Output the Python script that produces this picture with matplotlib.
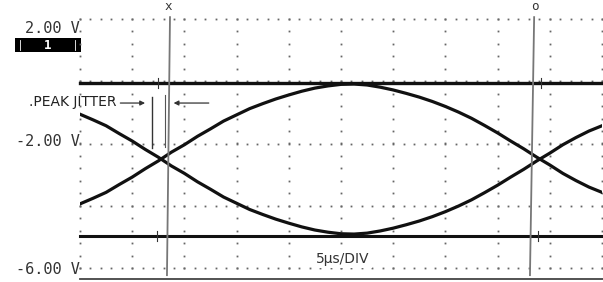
import matplotlib
matplotlib.use("Agg")
import matplotlib.pyplot as plt
from matplotlib.patches import Rectangle
import numpy as np

# Time axis (µs) and the two traces (V)
time_us = [0, 1.25, 2.5, 3.75, 5, 6.25, 7.5, 8.75, 10, 11.25, 12.5, 13.75,
           15, 16.25, 17.5, 18.75, 20, 21.25, 22.5, 23.75, 25, 26.25, 27.5, 28.75,
           30, 31.25, 32.5, 33.75, 35, 36.25, 37.5, 38.75, 40, 41.25, 42.5, 43.75,
           45, 46.25, 47.5, 48.75, 50]
trace_down = [-1.06, -1.24, -1.43, -1.68, -1.92, -2.19, -2.44, -2.72, -2.96, -3.23, -3.47,
              -3.72, -3.92, -4.12, -4.28, -4.43, -4.56, -4.68, -4.78, -4.85, -4.90, -4.91,
              -4.88, -4.81, -4.72, -4.61, -4.49, -4.35, -4.19, -4.01, -3.81, -3.58, -3.34,
              -3.08, -2.83, -2.56, -2.31, -2.04, -1.81, -1.60, -1.43]
trace_up = [-3.94, -3.76, -3.57, -3.32, -3.08, -2.81, -2.56, -2.28, -2.04, -1.77, -1.53,
            -1.28, -1.08, -0.88, -0.72, -0.57, -0.44, -0.32, -0.22, -0.15, -0.10, -0.09,
            -0.12, -0.19, -0.28, -0.39, -0.51, -0.65, -0.81, -0.99, -1.19, -1.42, -1.66,
            -1.92, -2.17, -2.44, -2.69, -2.96, -3.19, -3.40, -3.57]

# Envelope levels (V)
top_level = -0.05
bottom_level = -4.97

# Cursors (µs at top, µs at bottom)
cursor_x = [8.62, 8.33]
cursor_o = [43.5, 43.1]

volt_labels = ["2.00 V", "-2.00 V", "-6.00 V"]
volt_label_pos = [1.71, -1.95, -6.06]

fig = plt.figure(figsize=(6.03, 2.82), dpi=100)
ax = fig.add_axes([80 / 603, 14 / 282, 522 / 603, 249 / 282])
ax.set_xlim(0, 50)
ax.set_ylim(-6, 2)
ax.axis("off")

# Dotted graticule
dot = dict(ls="none", marker="s", ms=1.3, color="#666666", mec="none")
for v in [2, 0, -2, -4, -6]:
    ax.plot(np.arange(0, 50.1, 1.0), [v] * 51, clip_on=False, **dot)
for t in range(0, 51, 5):
    ax.plot([t] * 21, np.arange(-6, 2.01, 0.4), clip_on=False, **dot)

# Bottom frame line
ax.plot([0, 50.2], [-6.35, -6.35], color="#444444", lw=1.3, clip_on=False)

# Envelope lines
ax.plot([0, 50.2], [top_level, top_level], color="#111111", lw=2.4, clip_on=False)
ax.plot([0, 50.2], [bottom_level, bottom_level], color="#111111", lw=2.2, clip_on=False)
for t, v in [(7.5, top_level), (44.2, top_level), (7.4, bottom_level), (43.9, bottom_level)]:
    ax.plot([t, t], [v - 0.17, v + 0.17], color="#333333", lw=0.8, clip_on=False)

# Eye traces
ax.plot(time_us, trace_down, color="#111111", lw=2.3, solid_joinstyle="round")
ax.plot(time_us, trace_up, color="#111111", lw=2.3, solid_joinstyle="round")

# Cursors
ax.plot(cursor_x, [2.06, -6.23], color="#777777", lw=1.3, clip_on=False)
ax.plot(cursor_o, [2.06, -6.23], color="#777777", lw=1.3, clip_on=False)
ax.text(cursor_x[0] - 0.2, 2.2, "x", ha="center", va="bottom", fontsize=9,
        family="DejaVu Sans Mono", color="#333333")
ax.text(cursor_o[0] + 0.1, 2.2, "o", ha="center", va="bottom", fontsize=9,
        family="DejaVu Sans Mono", color="#333333")

# Peak jitter annotation
ax.annotate("", xy=(6.5, -0.7), xytext=(3.6, -0.7),
            arrowprops=dict(arrowstyle="-|>", color="#333333", lw=0.9, mutation_scale=7))
ax.annotate("", xy=(8.7, -0.7), xytext=(12.6, -0.7),
            arrowprops=dict(arrowstyle="-|>", color="#333333", lw=0.9, mutation_scale=7))
ax.plot([6.9, 6.9], [-0.51, -2.14], color="#333333", lw=1.0)
ax.plot([8.15, 8.15], [-0.45, -2.1], color="#555555", lw=0.8)
ax.text(3.45, -0.67, ".PEAK JITTER", ha="right", va="center", fontsize=10,
        color="#222222", clip_on=False)

# Volt labels
for lab, v in zip(volt_labels, volt_label_pos):
    ax.text(-0.05, v, lab, ha="right", va="center", fontsize=11,
            family="DejaVu Sans Mono", color="#333333", clip_on=False)

# Channel box: black block with bracket marks
ax.add_patch(Rectangle((-6.2, 0.93), 6.25, 0.47, facecolor="black", edgecolor="none",
                       clip_on=False))
for bx in [-5.75, -0.45]:
    ax.plot([bx, bx], [1.0, 1.33], color="white", lw=0.6, clip_on=False)
ax.text(-3.1, 1.16, "1", ha="center", va="center", fontsize=9, color="white",
        family="DejaVu Sans Mono", fontweight="bold", clip_on=False)

# Timebase
ax.text(25.2, -5.7, "5µs/DIV", ha="center", va="center", fontsize=10, color="#333333",
        bbox=dict(facecolor="white", edgecolor="none", pad=1.5))

fig.savefig("out.png", dpi=100, facecolor="white")
